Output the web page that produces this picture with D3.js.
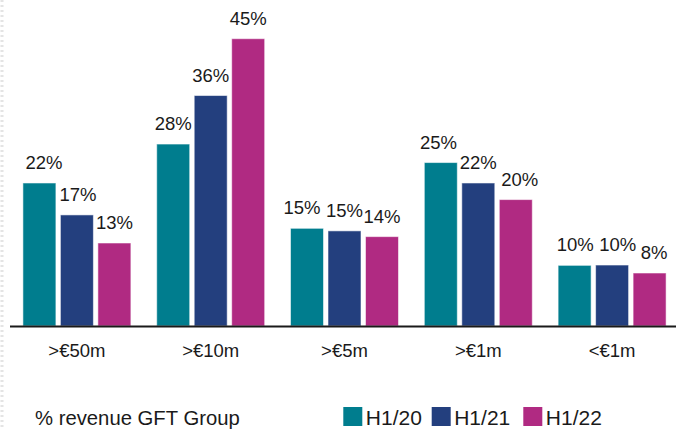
<!DOCTYPE html>
<html>
<head>
<meta charset="utf-8">
<script src="https://cdn.jsdelivr.net/npm/d3@7"></script>
<style>
  html, body { margin: 0; padding: 0; background: #fff; }
  svg { display: block; font-family: "Liberation Sans", Arial, sans-serif; }
</style>
</head>
<body>
<svg id="chart" width="676" height="429"></svg>
<script>
// ---- data ----
const categories = [">€50m", ">€10m", ">€5m", ">€1m", "<€1m"];
const seriesNames = ["H1/20", "H1/21", "H1/22"];
const h120 = [22.4, 28.5, 15.3, 25.6, 9.5];
const h121 = [17.4, 36.1, 14.9, 22.4, 9.55];
const h122 = [13.0, 45.0, 14.0, 19.8, 8.3];
const h120Labels = [22, 28, 15, 25, 10];
const h121Labels = [17, 36, 15, 22, 10];
const h122Labels = [13, 45, 14, 20, 8];
const footnote = "% revenue GFT Group";

// ---- style ----
const colors = ["#007D8E", "#233F7E", "#B02A82"];
// small horizontal nudges of value labels (as placed in the reference, to avoid overlaps)
const labelNudge = [
  [4.5, 0, -5, -2.3, 0.6],
  [1, 0, 0, 0, 5.7],
  [0, 0, 0, 4, 4.5]
];

const values = [h120, h121, h122];
const labels = [h120Labels, h121Labels, h122Labels];

const svg = d3.select("#chart");

// faint dotted left edge
svg.append("line")
  .attr("x1", 2).attr("x2", 2).attr("y1", 0).attr("y2", 429)
  .attr("stroke", "#e4e4e4").attr("stroke-width", 3)
  .attr("stroke-dasharray", "2,3");

const x0 = d3.scaleBand().domain(categories).range([10, 679])
  .paddingInner(0.193).paddingOuter(0.0965);
const x1 = d3.scaleBand().domain(seriesNames).range([0, x0.bandwidth()])
  .paddingInner(0.12).paddingOuter(0);
const y = d3.scaleLinear().domain([0, 45]).range([326, 38.7]);

const rows = [];
categories.forEach((c, i) => {
  seriesNames.forEach((s, j) => {
    rows.push({ cat: c, series: s, v: values[j][i], lab: labels[j][i], color: colors[j], dx: labelNudge[j][i] });
  });
});

const g = svg.append("g");
g.selectAll("rect.bar").data(rows).join("rect")
  .attr("class", "bar")
  .attr("x", d => x0(d.cat) + x1(d.series))
  .attr("width", x1.bandwidth())
  .attr("y", d => y(d.v))
  .attr("height", d => y(0) - y(d.v))
  .attr("fill", d => d.color)
  .attr("stroke", "rgba(255,255,255,0.55)")
  .attr("stroke-width", 1);

g.selectAll("text.val").data(rows).join("text")
  .attr("class", "val")
  .attr("x", d => x0(d.cat) + x1(d.series) + x1.bandwidth() / 2 + d.dx)
  .attr("y", d => y(d.v) - 14)
  .attr("text-anchor", "middle")
  .attr("font-size", "18.5px")
  .attr("fill", "#1a1a1a")
  .text(d => d.lab + "%");

// axis
const axis = d3.axisBottom(x0).tickSize(0).tickPadding(0);
const ax = svg.append("g").attr("transform", "translate(0,326.5)").call(axis);
ax.attr("font-family", null);
ax.select(".domain").attr("d", "M10,0H676").attr("stroke", "#1a1a1a").attr("stroke-width", 2);
ax.selectAll(".tick text")
  .attr("y", 30).attr("dy", 0)
  .attr("font-size", "18.5px")
  .attr("fill", "#1a1a1a");

// footnote
svg.append("text")
  .attr("x", 35).attr("y", 424.5)
  .attr("font-size", "20.3px")
  .attr("fill", "#1a1a1a")
  .text(footnote);

// legend
const legendX = [343.3, 431.7, 523.3];
const leg = svg.append("g");
seriesNames.forEach((s, j) => {
  const gg = leg.append("g").attr("transform", `translate(${legendX[j]},407)`);
  gg.append("rect").attr("width", 19).attr("height", 19).attr("fill", colors[j]);
  gg.append("text").attr("x", 22.5).attr("y", 17.5)
    .attr("font-size", "21px").attr("fill", "#1a1a1a").text(s);
});
</script>
</body>
</html>
